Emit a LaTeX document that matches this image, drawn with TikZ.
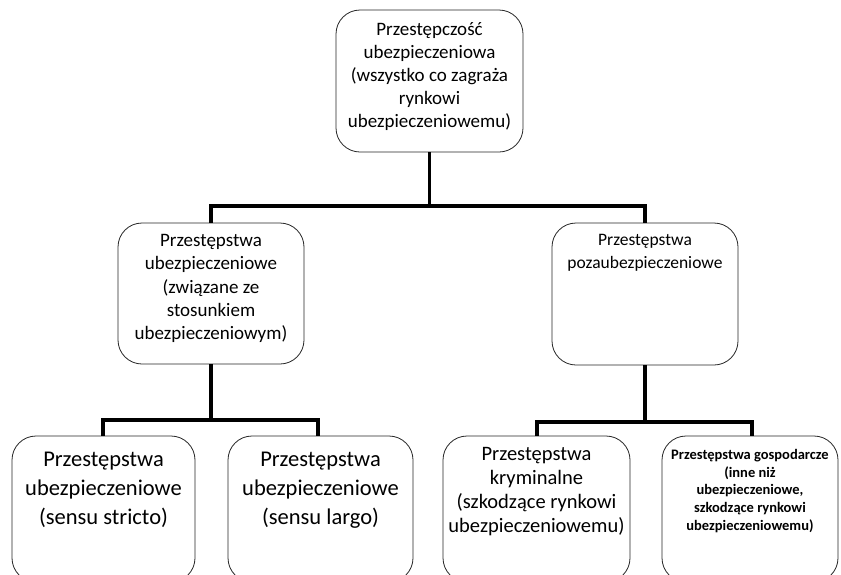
\documentclass[tikz,border=0pt]{standalone}
\usepackage{fontspec}
\setmainfont{Carlito}
\begin{document}
\begin{tikzpicture}[x=1pt,y=-1pt,
  box/.style={draw=black!85, line width=0.8pt, rounded corners=24pt, inner sep=0pt, fill=white},
  txt/.style={align=center, inner sep=0pt, anchor=north, text=black},
  conn/.style={line width=3.6pt, line join=miter, line cap=butt}]
\useasboundingbox (0,0) rectangle (841,574);
\fill[white] (0,0) rectangle (841,574);

% boxes
\node[box, minimum width=187pt, minimum height=142pt] (top) at (429.5,81) {};
\node[box, minimum width=186pt, minimum height=141pt] (ml) at (211,293.5) {};
\node[box, minimum width=186pt, minimum height=142pt] (mr) at (645,294) {};
\node[box, minimum width=183pt, minimum height=146pt] (b1) at (103.5,509) {};
\node[box, minimum width=185pt, minimum height=146pt] (b2) at (320.5,509) {};
\node[box, minimum width=187pt, minimum height=146pt] (b3) at (536.5,509) {};
\node[box, minimum width=176pt, minimum height=146pt] (b4) at (750,509) {};

% texts
\node[txt, font=\fontsize{19}{23}\selectfont] (ttop) at (429.5,22)
  {Przestępczość\\ubezpieczeniowa\\(wszystko co zagraża\\rynkowi\\ubezpieczeniowemu)};
\node[txt, font=\fontsize{19}{23.4}\selectfont] (tml) at (211,234)
  {Przestępstwa\\ubezpieczeniowe\\(związane ze\\stosunkiem\\ubezpieczeniowym)};
\node[txt, font=\fontsize{17.5}{23}\selectfont] (tmr) at (645,234)
  {Przestępstwa\\pozaubezpieczeniowe};
\node[txt, font=\fontsize{22.5}{29}\selectfont] (tb1) at (103.5,452)
  {Przestępstwa\\ubezpieczeniowe\\(sensu stricto)};
\node[txt, font=\fontsize{22.5}{29}\selectfont] (tb2) at (320.5,452)
  {Przestępstwa\\ubezpieczeniowe\\(sensu largo)};
\node[txt, font=\fontsize{20.5}{24}\selectfont] (tb3) at (536.5,447)
  {Przestępstwa\\kryminalne\\(szkodzące rynkowi\\ubezpieczeniowemu)};
\node[txt, font=\bfseries\fontsize{14.5}{17.7}\selectfont] (tb4) at (750,449)
  {Przestępstwa gospodarcze\\(inne niż\\ubezpieczeniowe,\\szkodzące rynkowi\\ubezpieczeniowemu)};

% connectors
\coordinate (j1) at (429.5,206);
\coordinate (j2) at (211,420);
\coordinate (j3) at (645,422);
\draw[conn] (top.south) -- (j1) -| (ml.north);
\draw[conn] (j1) -| (mr.north);
\draw[conn] (ml.south) -- (j2) -| (103,436);
\draw[conn] (j2) -| (318,436);
\draw[conn] (mr.south) -- (j3) -| (537,436);
\draw[conn] (j3) -| (752,436);
\end{tikzpicture}
\end{document}
